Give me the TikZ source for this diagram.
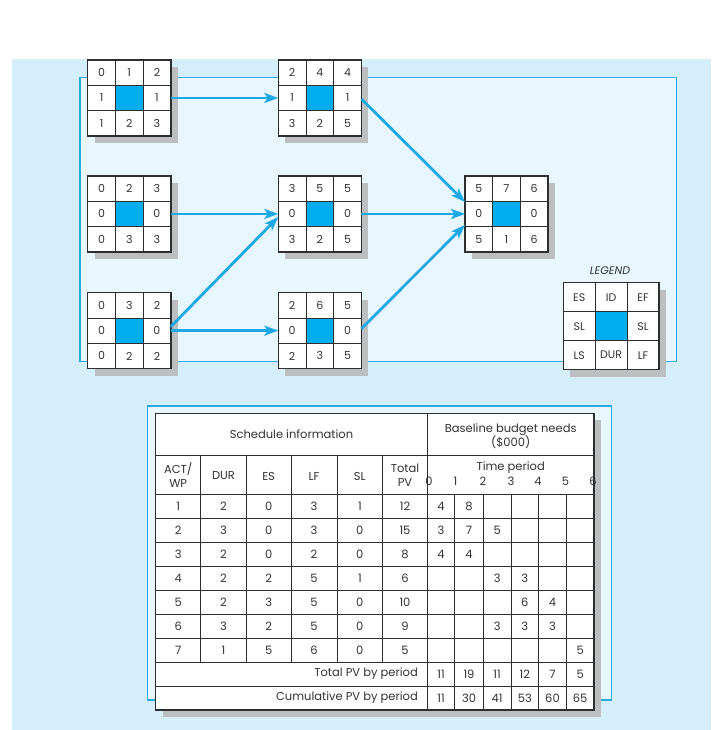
\documentclass[tikz,border=0pt]{standalone}
\usepackage{fontspec}
\setmainfont{Poppins}
\usetikzlibrary{arrows.meta}
\definecolor{bgout}{HTML}{D4EEFB}
\definecolor{bgin}{HTML}{E8F6FD}
\definecolor{framec}{HTML}{29ABE2}
\definecolor{cellc}{HTML}{00AEEF}
\definecolor{arrowc}{HTML}{1CA7E5}
\definecolor{shadowc}{HTML}{BDBEC0}
\definecolor{linec}{HTML}{2E2E2E}
\definecolor{textc}{HTML}{333333}
\tikzset{
  actnode/.style={draw=linec, line width=1.4pt, fill=white, inner sep=0pt, outer sep=0pt, anchor=north west},
  actborder/.style={draw=linec, line width=1.4pt},
  gridl/.style={draw=linec, line width=1pt},
  celltext/.style={font=\fontsize{11}{13}\selectfont, text=textc, inner sep=0pt},
  flow/.style={draw=arrowc, line width=2.8pt, -{Stealth[length=14pt,width=10pt,inset=3.5pt]}},
  frameline/.style={draw=framec, line width=1.4pt, fill=bgin},
  tline/.style={draw=linec, line width=1pt},
  tborder/.style={draw=linec, line width=1.4pt},
  ttext/.style={font=\fontsize{11.5}{14}\selectfont, text=textc, inner sep=0pt, align=center},
}
\newcommand{\actbox}[8]{%
  \fill[shadowc] (#2+7,#3+7) rectangle ++(3*#4,3*#5);
  \node[actnode, minimum width={3*#4pt}, minimum height={3*#5pt}] (#1) at (#2,#3) {};
  \fill[cellc] (#2+#4,#3+#5) rectangle ++(#4,#5);
  \draw[gridl] (#2+#4,#3) -- ++(0,3*#5) (#2+2*#4,#3) -- ++(0,3*#5)
               (#2,#3+#5) -- ++(3*#4,0) (#2,#3+2*#5) -- ++(3*#4,0);
  \draw[actborder] (#2,#3) rectangle ++(3*#4,3*#5);
  \foreach \t [count=\i] in {#6}
    \node[celltext] (#1-t\i) at (#2+\i*#4-#4/2,#3+#5/2) {\t};
  \foreach \l/\r in {#7}{
    \node[celltext] (#1-ml) at (#2+#4/2,#3+1.5*#5) {\l};
    \node[celltext] (#1-mr) at (#2+2.5*#4,#3+1.5*#5) {\r};}
  \foreach \t [count=\i] in {#8}
    \node[celltext] (#1-b\i) at (#2+\i*#4-#4/2,#3+2.5*#5) {\t};
}
\def\colx{{178.2,223.5,268.65,314,359.85,405,441,469,497.15,524.85,552.5,580.15}}
\begin{document}
\begin{tikzpicture}[x=1pt,y=-1pt]
\useasboundingbox (0,0) rectangle (727,730);
\fill[bgout] (12,59) rectangle (711,730);
% network frame
\draw[frameline] (80,77.7) rectangle (676.7,361.7);
% activity boxes
\actbox{A}{87.7}{60}{27.7}{25.3}{0,1,2}{1/1}{1,2,3}
\actbox{D}{278.3}{60}{27.7}{25.3}{2,4,4}{1/1}{3,2,5}
\actbox{B}{87.7}{176}{27.7}{25.3}{0,2,3}{0/0}{0,3,3}
\actbox{E}{278.3}{176}{27.7}{25.3}{3,5,5}{0/0}{3,2,5}
\actbox{C}{87.7}{292.7}{27.7}{25.3}{0,3,2}{0/0}{0,2,2}
\actbox{F}{278.3}{292.7}{27.7}{25.3}{2,6,5}{0/0}{2,3,5}
\actbox{G}{465}{176}{27.6}{25.3}{5,7,6}{0/0}{5,1,6}
\actbox{L}{563.3}{282.7}{31.9}{29}{ES,ID,EF}{SL/SL}{LS,DUR,LF}
\node[celltext, font=\fontsize{11}{13}\selectfont\itshape] (legendtitle) at (610,270.7) {LEGEND};
% connectors
\draw[flow] (A.east) -- (D.west);
\draw[flow] (B.east) -- (E.west);
\draw[flow] ([yshift=4pt]C.east) -- ([yshift=-3pt]E.west);
\draw[flow] (C.east) -- (F.west);
\draw[flow] ([yshift=-1pt]D.east) -- ([yshift=12pt]G.west);
\draw[flow] (E.east) -- (G.west);
\draw[flow] ([yshift=2pt]F.east) -- ([yshift=-11pt]G.west);
% table frame
\draw[frameline] (147.3,406) rectangle (611.7,700);
\fill[shadowc] (162.7,420.3) rectangle (601,717);
\fill[white] (155.7,413.3) rectangle (594,710);
\draw[tline] (155.7,455.7) -- (594,455.7);
\draw[tline] (155.7,494) -- (594,494);
\foreach \y in {518,542,...,686} \draw[tline] (155.7,\y) -- (594,\y);
\foreach \x in {200.7,246.3,291,337,382.7} \draw[tline] (\x,455.7) -- (\x,662);
\draw[tline] (427.3,413.3) -- (427.3,710);
\foreach \x in {454.7,483.3,511,538.7,566.3} \draw[tline] (\x,494) -- (\x,710);
\draw[tborder] (155.7,413.3) rectangle (594,710);
% headers
\node[ttext] (schedinfo) at (291.5,434.5) {Schedule information};
\node[ttext] (baseline) at (510.7,436.3) {Baseline budget needs\\(\$000)};
\node[ttext] (hact) at (178.2,475) {ACT/\\WP};
\node[ttext] (hdur) at (223.5,476) {DUR};
\node[ttext] (hes) at (268.65,476) {ES};
\node[ttext] (hlf) at (314,476) {LF};
\node[ttext] (hsl) at (359.85,476) {SL};
\node[ttext] (htot) at (405,475) {Total\\PV};
\node[ttext] (htime) at (510.7,468) {Time period};
\foreach \v/\x in {0/429,1/455.5,2/483,3/511,4/538,5/565.5,6/593}
  \node[ttext] (ax\v) at (\x,481.5) {\v};
% data
\foreach \rowdata [count=\r] in {
  {1,2,0,3,1,12,4,8,{},{},{},{}},
  {2,3,0,3,0,15,3,7,5,{},{},{}},
  {3,2,0,2,0,8,4,4,{},{},{},{}},
  {4,2,2,5,1,6,{},{},3,3,{},{}},
  {5,2,3,5,0,10,{},{},{},6,4,{}},
  {6,3,2,5,0,9,{},{},3,3,3,{}},
  {7,1,5,6,0,5,{},{},{},{},{},5}}{
  \foreach \v [count=\i] in \rowdata {
    \pgfmathsetmacro\xx{\colx[\i-1]}
    \pgfmathsetmacro\yy{482+24*\r}
    \node[ttext] (d\r-\i) at (\xx,\yy) {\v};
  }
}
\node[ttext, anchor=east] (totlabel) at (418,674) {Total PV by period};
\node[ttext, anchor=east] (cumlabel) at (418,698) {Cumulative PV by period};
\foreach \v [count=\i] in {11,19,11,12,7,5}{
  \pgfmathsetmacro\xx{\colx[\i+5]}
  \node[ttext] (tot\i) at (\xx,674) {\v};}
\foreach \v [count=\i] in {11,30,41,53,60,65}{
  \pgfmathsetmacro\xx{\colx[\i+5]}
  \node[ttext] (cum\i) at (\xx,698) {\v};}
\end{tikzpicture}
\end{document}
